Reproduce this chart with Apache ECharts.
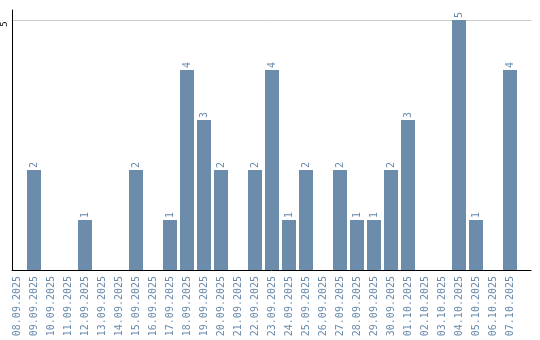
<!DOCTYPE html>
<html>
<head>
<meta charset="utf-8">
<script src="https://cdn.jsdelivr.net/npm/echarts@6/dist/echarts.min.js"></script>
<style>html,body{margin:0;padding:0;background:#fff}#c{width:540px;height:340px}</style>
</head>
<body>
<div id="c"></div>
<script>
const categories = ['08.09.2025','09.09.2025','10.09.2025','11.09.2025','12.09.2025','13.09.2025','14.09.2025','15.09.2025','16.09.2025','17.09.2025','18.09.2025','19.09.2025','20.09.2025','21.09.2025','22.09.2025','23.09.2025','24.09.2025','25.09.2025','26.09.2025','27.09.2025','28.09.2025','29.09.2025','30.09.2025','01.10.2025','02.10.2025','03.10.2025','04.10.2025','05.10.2025','06.10.2025','07.10.2025'];
const values = [0,2,0,0,1,0,0,2,0,1,4,3,2,0,2,4,1,2,0,2,1,1,2,3,0,0,5,1,0,4];
const yTickLabels = ['5'];

const txt = '#6a8aab';
const font = 'DejaVu Sans Mono';
const chart = echarts.init(document.getElementById('c'), null, {renderer: 'canvas'});
chart.setOption({
  animation: false,
  backgroundColor: '#fff',
  grid: [
    {left: 8.5, width: 510, top: 10, height: 260, containLabel: false},
    {left: 10, right: 9, top: 10, height: 260, containLabel: false}
  ],
  xAxis: [
    {type: 'category', gridIndex: 0, data: categories,
     axisLine: {show: false}, axisTick: {show: false},
     axisLabel: {rotate: 90, margin: 6, color: txt, fontFamily: font, fontSize: 10, interval: 0}},
    {type: 'value', gridIndex: 1, min: 0, max: 1,
     axisLine: {show: true, lineStyle: {color: '#000', width: 1}}, axisTick: {show: false},
     axisLabel: {show: false}, splitLine: {show: false}}
  ],
  yAxis: [
    {type: 'value', gridIndex: 0, min: 0, max: 5.2, show: false},
    {type: 'value', gridIndex: 1, min: 0, max: 5.2, interval: 5,
     axisLine: {show: true, lineStyle: {color: '#000', width: 1}}, axisTick: {show: false},
     axisLabel: {rotate: 90, margin: 3, color: '#000', fontFamily: font, fontSize: 9,
       align: 'center', padding: [0, 8, 0, 0],
       showMinLabel: false, showMaxLabel: false,
       formatter: v => yTickLabels.includes(String(v)) ? String(v) : ''},
     splitLine: {show: true, showMinLine: false, showMaxLine: false, lineStyle: {color: '#cccccc', width: 1}}}
  ],
  series: [
    {type: 'bar', xAxisIndex: 0, yAxisIndex: 0, data: values, barWidth: 14,
     itemStyle: {color: '#6c8cab'},
     label: {show: true, position: 'top', rotate: 90, align: 'left', verticalAlign: 'middle', distance: 2,
       color: txt, fontFamily: font, fontSize: 10,
       formatter: p => p.value > 0 ? String(p.value) : ''}},
    {type: 'scatter', xAxisIndex: 1, yAxisIndex: 1, data: [], silent: true}
  ]
});
</script>
</body>
</html>
